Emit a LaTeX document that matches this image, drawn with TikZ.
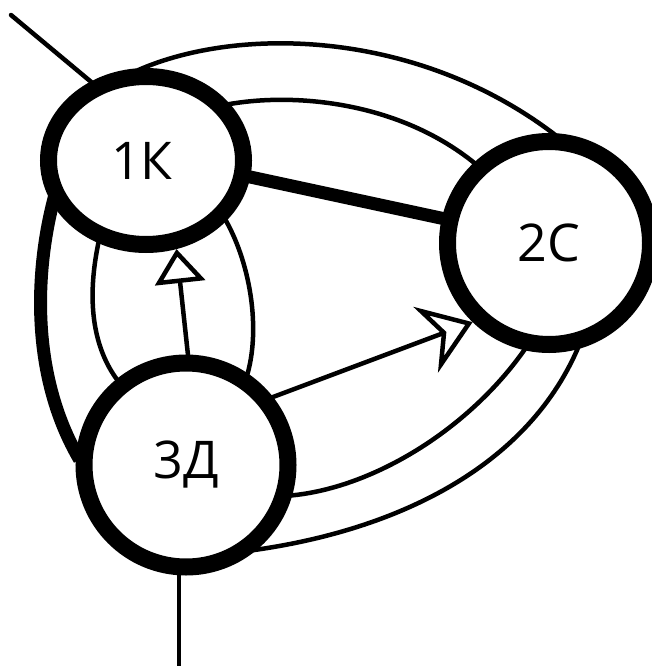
\documentclass[tikz,border=0pt]{standalone}
\usepackage{fontspec}
\setmainfont{Open Sans}
\usetikzlibrary{arrows.meta,shapes.geometric}
\pgfdeclarelayer{bg}
\pgfsetlayers{bg,main}
\begin{document}
\begin{tikzpicture}[x=1pt,y=-1pt,
  vertex/.style={draw, fill=white, line width=17pt, inner sep=0pt, font=\fontsize{52}{60}\selectfont},
  edgethin/.style={line width=4.5pt, shorten <=-6pt, shorten >=-6pt},
  edgethick/.style={line width=13pt, shorten <=-7pt, shorten >=-7pt},
  arrowedge/.style={line width=4.5pt, shorten <=-6pt}]
\useasboundingbox (0,0) rectangle (652,666);
\node[vertex, ellipse, minimum width=195pt, minimum height=168pt] (k1) at (146,160.5) {\hspace*{-8pt}1К};
\node[vertex, circle, minimum size=203pt] (c2) at (549,243) {2С};
\node[vertex, circle, minimum size=204pt] (d3) at (186,465) {3Д};
\coordinate (tl) at (11,15);
\coordinate (bot) at (179,670);
\begin{pgfonlayer}{bg}
\draw[edgethin, line cap=round, shorten <=0pt] (tl) -- (k1.125);
\draw[edgethin] (bot) -- (bot |- d3.center);
\draw[edgethin] (k1.92) .. controls (240,25) and (420,30) .. (c2.88);
\draw[edgethin] (k1.34) .. controls (290,92) and (400,100) .. (c2.133);
\draw[edgethick] (k1.-9) -- (c2.167);
\draw[edgethick] (k1.205) .. controls (35,270) and (30,375) .. (d3.174);
\draw[edgethin] (k1.240) .. controls (90,280) and (85,340) .. (d3.129);
\draw[edgethin] (k1.-37) .. controls (250,260) and (262,330) .. (d3.56);
\draw[edgethin] (d3.-16) .. controls (370,490) and (470,430) .. (c2.257);
\draw[edgethin] (d3.-50) .. controls (400,530) and (530,465) .. (c2.285);
\draw[arrowedge, -{Triangle[open, length=34pt, width=50pt]}] (d3.89) -- (k1.289);
\draw[arrowedge, -{Stealth[open, length=50pt, width=70pt, inset=17pt]}] (d3.38) -- (c2.226);
\end{pgfonlayer}
\end{tikzpicture}
\end{document}
